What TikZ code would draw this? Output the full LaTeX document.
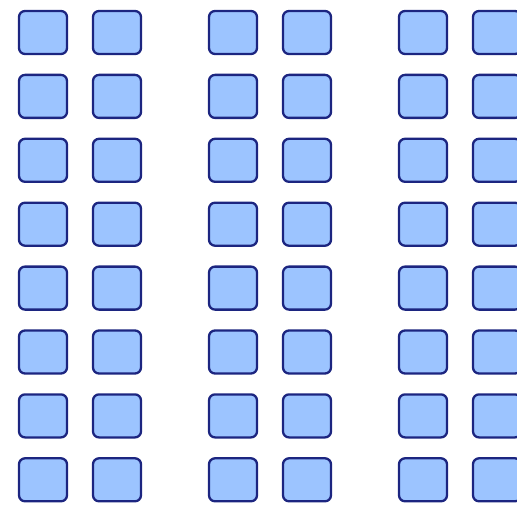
\documentclass[tikz,border=0pt]{standalone}
\usepackage{xcolor}
\usetikzlibrary{positioning}
\definecolor{cellfill}{HTML}{9CC4FF}
\definecolor{celledge}{HTML}{1C2580}

\tikzset{
  cell/.style={draw=celledge,fill=cellfill,line width=2.3pt,rounded corners=6pt,
    minimum width=48pt,minimum height=43pt,inner sep=0pt}
}

\begin{document}
\begin{tikzpicture}[x=1pt,y=1pt]
\useasboundingbox (0,0) rectangle (517,507);
\clip (0,0) rectangle (517,507);
\foreach \g in {0,1,2}
  \foreach \c in {0,1}
    \foreach \r in {0,...,7}
      \node[cell] (cell-\g-\c-\r) at ({43+190*\g+74*\c},{474.5-63.9*\r}) {};
\end{tikzpicture}
\end{document}
